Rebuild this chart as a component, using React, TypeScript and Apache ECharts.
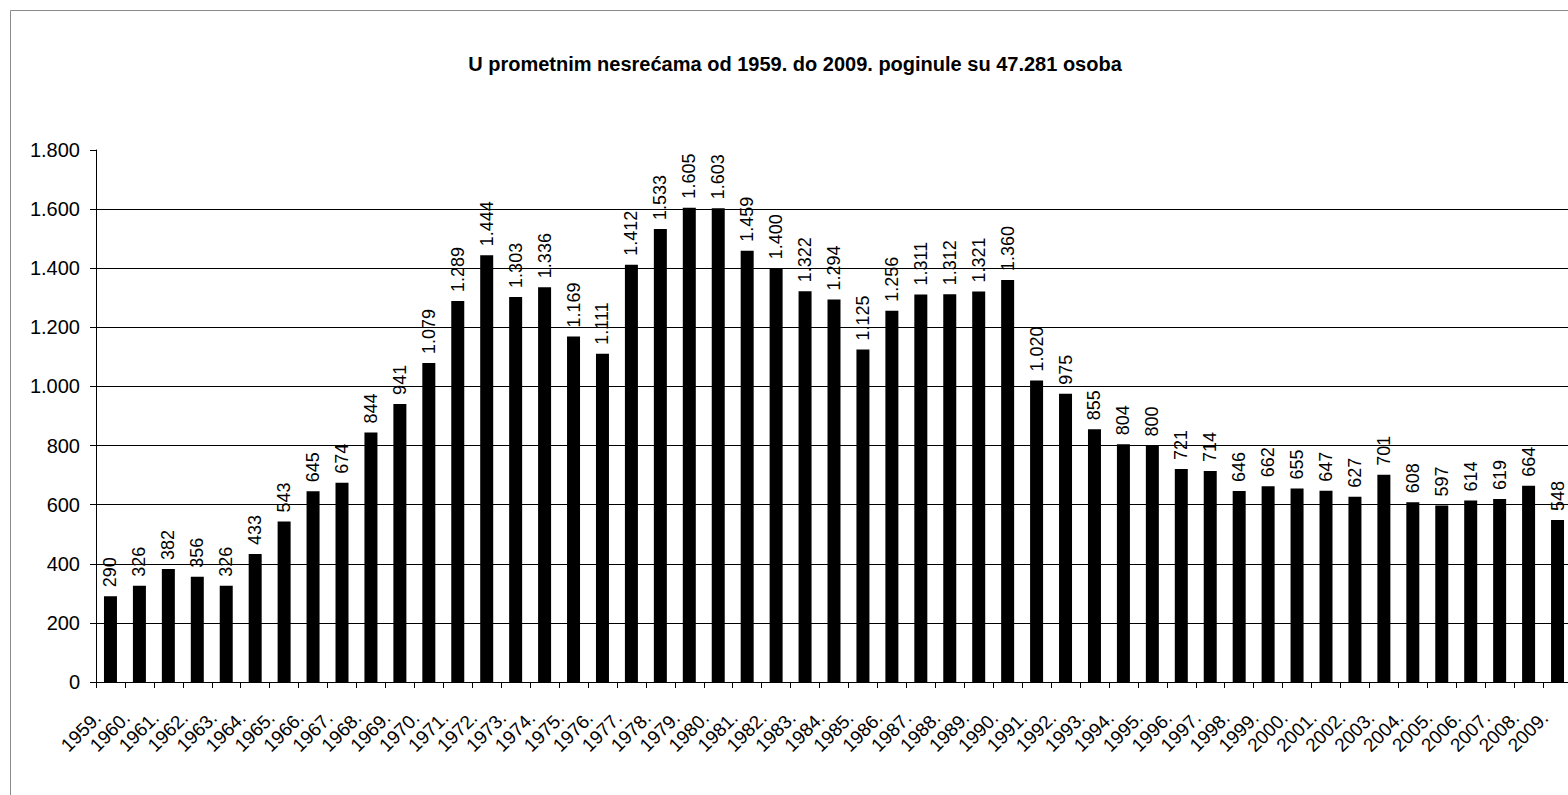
import React, { useEffect, useRef } from "react";
import * as echarts from "echarts";

const titleText = "U prometnim nesrećama od 1959. do 2009. poginule su 47.281 osoba";

const years = [
  "1959.", "1960.", "1961.", "1962.", "1963.", "1964.", "1965.", "1966.", "1967.", "1968.",
  "1969.", "1970.", "1971.", "1972.", "1973.", "1974.", "1975.", "1976.", "1977.", "1978.",
  "1979.", "1980.", "1981.", "1982.", "1983.", "1984.", "1985.", "1986.", "1987.", "1988.",
  "1989.", "1990.", "1991.", "1992.", "1993.", "1994.", "1995.", "1996.", "1997.", "1998.",
  "1999.", "2000.", "2001.", "2002.", "2003.", "2004.", "2005.", "2006.", "2007.", "2008.",
  "2009.",
];

const deaths = [
  290, 326, 382, 356, 326, 433, 543, 645, 674, 844,
  941, 1079, 1289, 1444, 1303, 1336, 1169, 1111, 1412, 1533,
  1605, 1603, 1459, 1400, 1322, 1294, 1125, 1256, 1311, 1312,
  1321, 1360, 1020, 975, 855, 804, 800, 721, 714, 646,
  662, 655, 647, 627, 701, 608, 597, 614, 619, 664,
  548,
];

const yMin = 0;
const yMax = 1800;
const yStep = 200;
const gridValues = [200, 400, 600, 800, 1000, 1200, 1400, 1600];

const fmt = (n: number) => {
  const v = Math.round(n);
  if (v < 1000) return String(v);
  const th = Math.floor(v / 1000);
  const rest = String(v % 1000).padStart(3, "0");
  return th + "." + rest;
};

const FONT = "'Liberation Sans', Arial, sans-serif";

export default function App() {
  const ref = useRef<HTMLDivElement>(null);

  useEffect(() => {
    if (!ref.current) return;
    const chart = echarts.init(ref.current, undefined, { renderer: "svg" });
    chart.setOption({
      animation: false,
      backgroundColor: "#ffffff",
      textStyle: { fontFamily: FONT },
      title: {
        text: titleText,
        left: 790,
        top: 49,
        textAlign: "center",
        textStyle: {
          fontFamily: FONT,
          fontSize: 20,
          fontWeight: "bold",
          color: "#000",
        },
      },
      graphic: [
        {
          type: "rect",
          shape: { x: 10.5, y: 10.5, width: 2000, height: 2000 },
          style: { fill: "none", stroke: "#8a8a8a", lineWidth: 1 },
          silent: true,
        },
      ],
      grid: {
        left: 96,
        top: 150,
        width: 1476,
        height: 532,
        containLabel: false,
        outerBoundsMode: "none",
      },
      xAxis: {
        type: "category",
        data: years,
        boundaryGap: true,
        axisLine: { show: true, lineStyle: { color: "#000", width: 1 } },
        axisTick: { show: true, length: 6, lineStyle: { color: "#000" } },
        axisLabel: {
          rotate: 45,
          interval: 0,
          margin: 20,
          color: "#000",
          fontFamily: FONT,
          fontSize: 19,
          hideOverlap: false,
          formatter: (v: string) => `{t|${v}}{s|}`,
          rich: {
            t: { fontSize: 19, color: "#000", fontFamily: FONT },
            s: { width: 18, fontSize: 19 },
          },
        },
        splitLine: { show: false },
      },
      yAxis: {
        type: "value",
        min: yMin,
        max: yMax,
        interval: yStep,
        axisLine: { show: true, lineStyle: { color: "#000", width: 1 } },
        axisTick: { show: true, length: 6, lineStyle: { color: "#000" } },
        axisLabel: {
          margin: 16,
          fontSize: 20,
          color: "#000",
          fontFamily: FONT,
          formatter: (v: number) => fmt(v),
        },
        splitLine: { show: false },
      },
      series: [
        {
          type: "bar",
          data: deaths,
          barWidth: 13,
          itemStyle: { color: "#000" },
          label: {
            show: true,
            position: "top",
            rotate: 90,
            align: "left",
            verticalAlign: "middle",
            distance: 9,
            fontSize: 18,
            color: "#000",
            fontFamily: FONT,
            formatter: (p: any) => fmt(p.value),
          },
          markLine: {
            silent: true,
            symbol: "none",
            label: { show: false },
            lineStyle: { color: "#000", width: 1, type: "solid" },
            data: gridValues.map((v) => ({ yAxis: v })),
            z: 1,
          },
        },
      ],
    });
    return () => chart.dispose();
  }, []);

  return (
    <div
      style={{
        position: "fixed",
        left: 0,
        top: 0,
        width: 1568,
        height: 795,
        overflow: "hidden",
        background: "#fff",
      }}
    >
      <div
        ref={ref}
        style={{ position: "absolute", left: 0, top: 0, width: 1640, height: 795 }}
      />
    </div>
  );
}
